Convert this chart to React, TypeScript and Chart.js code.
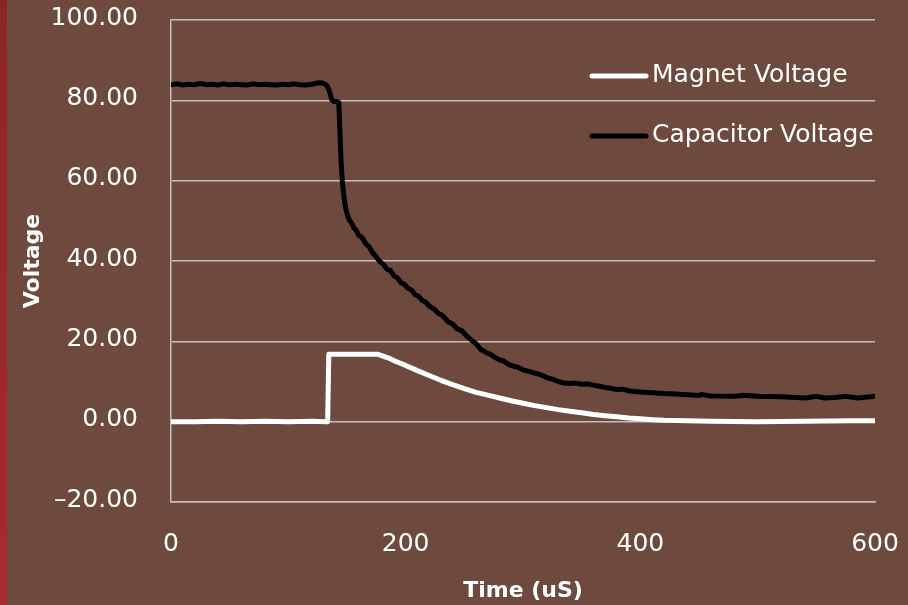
import React, { useEffect, useRef } from "react";
import { Chart, registerables } from "chart.js";

Chart.register(...registerables);

const seriesNames = ["Magnet Voltage", "Capacitor Voltage"];
const xTickValues = [0, 200, 400, 600];

const magnetTime = [0, 20, 40, 60, 80, 100, 120, 132, 133.5, 134.5, 150, 176, 180, 185, 190, 195, 200, 210, 220, 230, 240, 250, 260, 270, 280, 290, 300, 310, 320, 330, 340, 350, 360, 370, 380, 390, 400, 410, 420, 440, 460, 480, 500, 520, 540, 560, 580, 600];
const magnetVolt = [0, 0, 0.1, 0, 0.1, 0, 0.1, 0, 0, 16.8, 16.8, 16.8, 16.4, 15.9, 15.2, 14.6, 14.0, 12.7, 11.5, 10.3, 9.2, 8.2, 7.3, 6.6, 5.9, 5.2, 4.6, 4.0, 3.5, 3.0, 2.6, 2.2, 1.8, 1.5, 1.2, 0.9, 0.7, 0.5, 0.35, 0.2, 0.1, 0.05, 0, 0.05, 0.1, 0.15, 0.2, 0.25];

const capacitorTime = [0, 5, 10, 15, 20, 25, 30, 35, 40, 45, 50, 55, 60, 65, 70, 75, 80, 85, 90, 95, 100, 105, 110, 115, 120, 125, 128, 131, 133, 135, 137, 139, 141, 143, 144, 145, 146, 147, 148, 149, 150, 152, 154, 156, 158, 160, 163, 166, 169, 172, 175, 178, 181, 184, 187, 190, 193, 196, 199, 202, 205, 208, 211, 214, 217, 220, 224, 228, 232, 236, 240, 244, 248, 252, 256, 260, 264, 268, 272, 276, 280, 284, 288, 292, 296, 300, 305, 310, 315, 320, 325, 330, 335, 340, 345, 350, 355, 360, 365, 370, 375, 380, 385, 390, 395, 400, 410, 420, 430, 440, 450, 452, 460, 480, 488, 500, 520, 541, 550, 557, 566, 575, 585, 600];
const capacitorVolt = [83.9, 84.1, 83.8, 84.0, 83.9, 84.2, 83.9, 84.0, 83.8, 84.1, 83.9, 84.0, 83.9, 83.8, 84.1, 83.9, 84.0, 83.9, 83.8, 84.0, 83.9, 84.1, 83.9, 83.8, 84.0, 84.3, 84.4, 84.1, 83.6, 82.3, 80.2, 79.7, 79.7, 79.5, 72.0, 64.5, 60.0, 57.0, 54.8, 53.0, 51.8, 50.2, 49.4, 48.2, 47.6, 46.4, 45.8, 44.3, 43.5, 42.0, 41.0, 39.8, 39.2, 38.0, 37.6, 36.3, 35.8, 34.6, 34.2, 33.2, 32.8, 31.6, 31.2, 30.2, 29.8, 28.8, 28.1, 26.9, 26.3, 24.9, 24.3, 23.1, 22.6, 21.3, 20.3, 19.4, 18.0, 17.3, 16.8, 16.0, 15.4, 15.0, 14.2, 13.8, 13.5, 12.9, 12.5, 12.1, 11.7, 11.0, 10.6, 10.0, 9.6, 9.5, 9.6, 9.3, 9.4, 9.1, 8.8, 8.5, 8.3, 8.0, 8.1, 7.7, 7.5, 7.4, 7.2, 7.0, 6.9, 6.7, 6.5, 6.8, 6.4, 6.3, 6.6, 6.3, 6.2, 5.9, 6.3, 5.9, 6.0, 6.3, 5.9, 6.3];

const WHITE = "#FFFFFF";
const GRID = "#BFBFBF";
const FONT = "'DejaVu Sans', sans-serif";

const legendPlugin = {
  id: "customLegend",
  afterDraw(chart: any) {
    const { ctx, chartArea } = chart;
    const x0 = chartArea.right - 283;
    const y0 = chartArea.top + 56;
    ctx.save();
    chart.data.datasets.forEach((ds: any, i: number) => {
      const y = y0 + i * 60;
      ctx.beginPath();
      ctx.strokeStyle = ds.borderColor;
      ctx.lineWidth = 5;
      ctx.lineCap = "round";
      ctx.moveTo(x0, y);
      ctx.lineTo(x0 + 54, y);
      ctx.stroke();
      ctx.fillStyle = WHITE;
      ctx.font = `25px ${FONT}`;
      ctx.textBaseline = "alphabetic";
      ctx.textAlign = "left";
      ctx.fillText(ds.label, x0 + 60, y + 6);
    });
    ctx.restore();
  },
};

export default function App() {
  const ref = useRef<HTMLCanvasElement>(null);
  useEffect(() => {
    if (!ref.current) return;
    const magnet = magnetTime.map((t, i) => ({ x: t, y: magnetVolt[i] }));
    const capacitor = capacitorTime.map((t, i) => ({ x: t, y: capacitorVolt[i] }));
    const chart = new Chart(ref.current, {
      type: "line",
      data: {
        datasets: [
          {
            label: seriesNames[0],
            data: magnet,
            borderColor: WHITE,
            borderWidth: 5,
            pointRadius: 0,
            borderJoinStyle: "round",
            borderCapStyle: "round",
            tension: 0,
          },
          {
            label: seriesNames[1],
            data: capacitor,
            borderColor: "#000000",
            borderWidth: 5,
            pointRadius: 0,
            borderJoinStyle: "round",
            borderCapStyle: "round",
            tension: 0,
          },
        ],
      },
      options: {
        animation: false,
        responsive: false,
        layout: { padding: { top: 20, right: 33, left: 0, bottom: 0 } },
        plugins: { legend: { display: false }, tooltip: { enabled: false } },
        scales: {
          x: {
            type: "linear",
            min: 0,
            max: 600,
            afterFit: (s: any) => {
              s.height = 103;
              s.paddingLeft = 0;
              s.paddingRight = 0;
              s.paddingTop = 0;
              s.paddingBottom = 0;
            },
            afterBuildTicks: (s: any) => { s.ticks = xTickValues.map((v) => ({ value: v })); },
            grid: { display: false, drawTicks: false },
            border: { display: true, color: GRID, width: 1.5 },
            ticks: { color: WHITE, font: { family: FONT, size: 25 }, padding: 27, maxRotation: 0 },
            title: { display: true, text: "Time (uS)", color: WHITE, font: { family: FONT, size: 22, weight: "bold" }, padding: { top: 0, bottom: 1 } },
          },
          y: {
            min: -20,
            max: 100,
            afterFit: (s: any) => {
              s.width = 171;
              s.paddingLeft = 0;
              s.paddingRight = 0;
              s.paddingTop = 0;
              s.paddingBottom = 0;
            },
            grid: { color: GRID, lineWidth: 1.5, drawTicks: false },
            border: { display: true, color: GRID, width: 1.5 },
            ticks: {
              stepSize: 20,
              color: WHITE,
              font: { family: FONT, size: 25 },
              padding: 33,
              labelOffset: -2,
              callback: (v: any) => Number(v).toFixed(2).replace("-", "–"),
            },
            title: { display: true, text: "Voltage", color: WHITE, font: { family: FONT, size: 22, weight: "bold" }, padding: { top: 20, bottom: 0 } },
          },
        },
      },
      plugins: [legendPlugin],
    } as any);
    return () => chart.destroy();
  }, []);

  return (
    <div style={{ position: "fixed", left: 0, top: 0, width: 908, height: 605, background: "#6E4A3E", overflow: "hidden" }}>
      <div style={{ position: "absolute", left: 0, top: 0, width: 7, height: 605, background: "linear-gradient(#8C2621, #A82B2B)" }} />
      <canvas ref={ref} width={908} height={605} style={{ position: "absolute", left: 0, top: 0, width: 908, height: 605 }} />
    </div>
  );
}
